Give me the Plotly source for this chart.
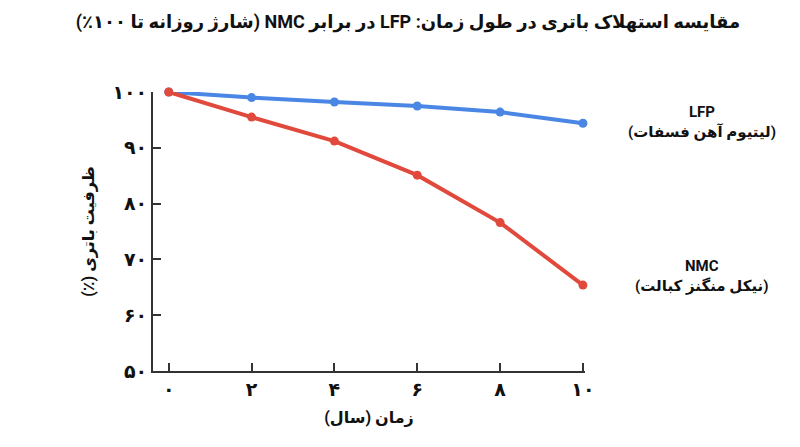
import plotly.graph_objects as go

# years and capacity (%)
years = [0, 2, 4, 6, 8, 10]
x_tick_labels = ["۰", "۲", "۴", "۶", "۸", "۱۰"]
lfp_capacity = [100, 99.0, 98.2, 97.5, 96.4, 94.4]
nmc_capacity = [100, 95.5, 91.2, 85.1, 76.6, 65.4]
y_ticks = [50, 60, 70, 80, 90, 100]
y_tick_labels = ["۵۰", "۶۰", "۷۰", "۸۰", "۹۰", "۱۰۰"]

BLUE = "#4a86e4"
RED = "#e0493b"
FONT = "Roboto, DejaVu Sans, sans-serif"


def rtl(s):
    # force right-to-left base direction inside svg text
    return "\u202B" + s + "\u202C"


fig = go.Figure()

fig.add_trace(go.Scatter(
    x=years, y=lfp_capacity, mode="lines+markers", name="LFP",
    line=dict(color=BLUE, width=4), marker=dict(size=9, color=BLUE),
    cliponaxis=False
))
fig.add_trace(go.Scatter(
    x=years, y=nmc_capacity, mode="lines+markers", name="NMC",
    line=dict(color=RED, width=4), marker=dict(size=9, color=RED),
    cliponaxis=False
))

# end labels
fig.add_annotation(x=years[-1], y=lfp_capacity[-1], xref="x", yref="y",
                   text="LFP<br>" + rtl("(لیتیوم آهن فسفات)"), showarrow=False,
                   xshift=119, yshift=1, align="center",
                   font=dict(family=FONT, size=15, color="#111", weight="bold"))
fig.add_annotation(x=years[-1], y=nmc_capacity[-1], xref="x", yref="y",
                   text="NMC<br>" + rtl("(نیکل منگنز کبالت)"), showarrow=False,
                   xshift=119, yshift=9, align="center",
                   font=dict(family=FONT, size=15, color="#111", weight="bold"))

fig.update_layout(
    width=792, height=439,
    paper_bgcolor="white", plot_bgcolor="white",
    margin=dict(l=145, r=215, t=84, b=76),
    showlegend=False,
    title=dict(text=rtl("مقایسه استهلاک باتری در طول زمان: LFP در برابر NMC (شارژ روزانه تا ۱۰۰٪)"),
               x=0.505, xanchor="center", y=0.968, yanchor="middle",
               font=dict(family=FONT, size=18, color="#111", weight="bold")),
    font=dict(family=FONT, color="#111"),
)

fig.update_xaxes(
    range=[-0.38, 10.05], tickvals=years, ticktext=x_tick_labels,
    showgrid=False, zeroline=False, showline=True, linecolor="#333", linewidth=2,
    ticks="inside", ticklen=8, tickwidth=1.5, tickcolor="#333",
    tickfont=dict(family=FONT, size=19, color="#111", weight="bold"),
    title=dict(text=rtl("زمان (سال)"), standoff=12,
               font=dict(family=FONT, size=16, color="#111", weight="bold")),
)
fig.update_yaxes(
    range=[50, 100], tickvals=y_ticks, ticktext=y_tick_labels,
    showgrid=False, zeroline=False, showline=True, linecolor="#333", linewidth=2,
    ticks="inside", ticklen=8, tickwidth=1.5, tickcolor="#333",
    tickfont=dict(family=FONT, size=19, color="#111", weight="bold"),
    title=dict(text=rtl("ظرفیت باتری (٪)"), standoff=14,
               font=dict(family=FONT, size=16, color="#111", weight="bold")),
)

fig.write_html("out.html")
